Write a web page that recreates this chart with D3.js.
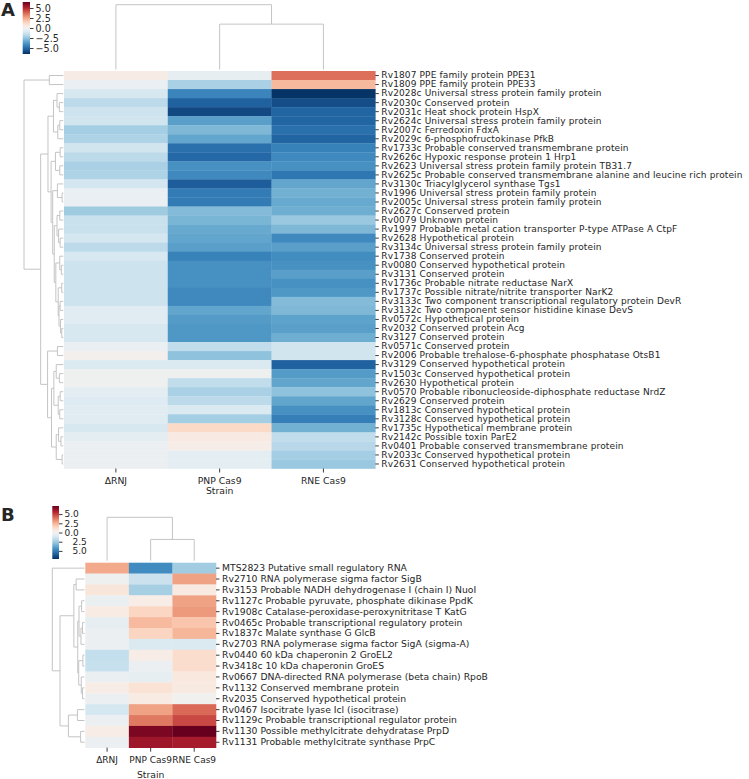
<!DOCTYPE html>
<html><head><meta charset="utf-8">
<script src="https://cdn.jsdelivr.net/npm/d3@7"></script>
<style>
body{margin:0;background:#fff;}
text{font-family:"DejaVu Sans",sans-serif;fill:#262626;}
</style></head>
<body>
<svg id="chart" width="749" height="779"></svg>
<script>
// ---------- DATA ----------
const strains = ["ΔRNJ", "PNP Cas9", "RNE Cas9"];

const genesA = [
"Rv1807 PPE family protein PPE31","Rv1809 PPE family protein PPE33","Rv2028c Universal stress protein family protein",
"Rv2030c Conserved protein","Rv2031c Heat shock protein HspX","Rv2624c Universal stress protein family protein",
"Rv2007c Ferredoxin FdxA","Rv2029c 6-phosphofructokinase PfkB","Rv1733c Probable conserved transmembrane protein",
"Rv2626c Hypoxic response protein 1 Hrp1","Rv2623 Universal stress protein family protein TB31.7",
"Rv2625c Probable conserved transmembrane alanine and leucine rich protein","Rv3130c Triacylglycerol synthase Tgs1",
"Rv1996 Universal stress protein family protein","Rv2005c Universal stress protein family protein","Rv2627c Conserved protein",
"Rv0079 Unknown protein","Rv1997 Probable metal cation transporter P-type ATPase A CtpF","Rv2628 Hypothetical protein",
"Rv3134c Universal stress protein family protein","Rv1738 Conserved protein","Rv0080 Conserved hypothetical protein",
"Rv3131 Conserved protein","Rv1736c Probable nitrate reductase NarX","Rv1737c Possible nitrate/nitrite transporter NarK2",
"Rv3133c Two component transcriptional regulatory protein DevR","Rv3132c Two component sensor histidine kinase DevS",
"Rv0572c Hypothetical protein","Rv2032 Conserved protein Acg","Rv3127 Conserved protein","Rv0571c Conserved protein",
"Rv2006 Probable trehalose-6-phosphate phosphatase OtsB1","Rv3129 Conserved hypothetical protein",
"Rv1503c Conserved hypothetical protein","Rv2630 Hypothetical protein","Rv0570 Probable ribonucleoside-diphosphate reductase NrdZ",
"Rv2629 Conserved protein","Rv1813c Conserved hypothetical protein","Rv3128c Conserved hypothetical protein",
"Rv1735c Hypothetical membrane protein","Rv2142c Possible toxin ParE2","Rv0401 Probable conserved transmembrane protein",
"Rv2033c Conserved hypothetical protein","Rv2631 Conserved hypothetical protein"];

const rnjA = [0.4,-0.4,-1.0,-1.7,-1.3,-1.2,-2.2,-2.0,-1.2,-1.7,-2.1,-2.0,-1.1,-0.4,-0.4,-2.3,-1.4,-1.4,-1.1,-1.7,
  -1.0,-1.3,-1.3,-1.3,-1.3,-1.3,-0.7,-0.7,-1.0,-1.0,-0.4,0.1,-0.9,-0.2,-0.2,-0.6,-0.8,-0.7,-0.7,-1.0,-0.6,-0.3,-0.3,-0.3];
const pnpA = [-0.5,-2.1,-4.3,-5.3,-5.9,-3.6,-2.9,-3.4,-4.9,-5.1,-4.0,-4.2,-5.4,-4.6,-4.6,-2.8,-3.0,-3.3,-3.4,-3.6,
  -4.4,-4.0,-4.0,-4.0,-4.2,-4.2,-3.4,-3.7,-3.8,-3.8,-1.6,-2.6,-0.9,-0.2,-1.6,-2.1,-1.7,-0.9,-2.2,1.2,0.5,0.3,-0.6,-0.6];
const rneA = [3.6,2.1,-6.4,-5.8,-5.2,-5.2,-4.9,-5.2,-4.4,-4.2,-4.0,-4.7,-3.4,-3.1,-3.3,-3.2,-2.4,-2.9,-4.2,-3.6,
  -4.1,-4.0,-3.6,-4.0,-3.8,-2.8,-2.9,-3.5,-3.6,-3.2,-1.2,-1.2,-5.3,-3.7,-3.4,-2.6,-3.4,-4.0,-4.5,-3.1,-1.6,-1.8,-2.2,-2.4];

const genesB = [
"MTS2823 Putative small regulatory RNA","Rv2710 RNA polymerase sigma factor SigB",
"Rv3153 Probable NADH dehydrogenase I (chain I) NuoI","Rv1127c Probable pyruvate, phosphate dikinase PpdK",
"Rv1908c Catalase-peroxidase-peroxynitritase T KatG","Rv0465c Probable transcriptional regulatory protein",
"Rv1837c Malate synthase G GlcB","Rv2703 RNA polymerase sigma factor SigA (sigma-A)","Rv0440 60 kDa chaperonin 2 GroEL2",
"Rv3418c 10 kDa chaperonin GroES","Rv0667 DNA-directed RNA polymerase (beta chain) RpoB","Rv1132 Conserved membrane protein",
"Rv2035 Conserved hypothetical protein","Rv0467 Isocitrate lyase Icl (isocitrase)","Rv1129c Probable transcriptional regulator protein",
"Rv1130 Possible methylcitrate dehydratase PrpD","Rv1131 Probable methylcitrate synthase PrpC"];

const rnjB = [2.7,-0.2,0.8,-0.4,0.5,-0.6,-0.3,-0.3,-1.7,-1.6,-0.4,0.4,-0.3,-1.2,-0.3,0.4,-0.3];
const pnpB = [-4.6,-1.5,-2.4,0.4,1.45,2.3,1.5,-1.0,0.4,-0.3,-0.6,1.0,0.5,2.9,3.8,6.8,6.1];
const rneB = [-2.5,2.9,0.6,2.9,3.1,2.0,2.4,-1.0,1.2,1.2,0.7,0.6,-0.1,4.1,4.8,7.2,5.9];

const cbTicks = [5, 2.5, 0, -2.5, -5];
const limA = 6.5, limB = 7.2;

// dendrograms: [height, left, right]; leaves = row/column index
const colTreeA = [1, 0, [0.70, 1, 2]];
const colTreeB = [1, 0, [0.49, 1, 2]];
const rowTreeA = [10,
  [3.56, 0, 1],
  [5.76,
    [3.9,
      [2.5, [1.6, 2, [1.0, 3, 4]], [1.4, [0.9, 5, 6], 7]],
      [3.1,
        [2.0, [0.8, 8, 9], [0.9, 10, 11]],
        [2.7,
          [1.5, 12, [0.3, 13, 14]],
          [2.3,
            [1.6, [0.9, 15, 16], [1.2, 17, [0.8, 18, 19]]],
            [1.9, [0.9, 20, [0.5, 21, 22]], [1.3, [0.4, 23, 24], [1.1, [0.8, 25, 26], [0.7, 27, [0.4, 28, 29]]]]]]]]],
    [4.0,
      [1.5, 30, 31],
      [3.0,
        [2.4, [1.8, 32, [1.0, 33, 34]], [1.3, [0.8, 35, 36], [0.9, 37, 38]]],
        [1.8, [1.2, 39, [0.6, 40, 41]], [0.3, 42, 43]]]]]];
const rowTreeB = [10, 0,
  [7.6,
    [3.3, [2.6, 1, 2],
      [2.1,
        [1.7, [0.9, 3, 4], [1.1, [0.6, 5, 6], 7]],
        [1.8, [0.5, 8, 9], [1.0, 10, [0.6, 11, 12]]]]],
    [5.0, [2.2, 13, 14], [1.2, 15, 16]]]];

// ---------- DRAW ----------
const svg = d3.select("#chart");
const TREE = "#c4c4c4";

function drawTree(g, tree, leafPos, hScale, rowMode) {
  const pt = (p, h) => rowMode ? [hScale(h), p] : [p, hScale(h)];
  function walk(n) {
    if (typeof n === "number") return {p: leafPos(n), h: 0};
    const [h, a, b] = n;
    const A = walk(a), B = walk(b);
    g.append("path")
      .attr("d", d3.line()([pt(A.p, A.h), pt(A.p, h), pt(B.p, h), pt(B.p, B.h)]))
      .attr("fill", "none").attr("stroke", TREE).attr("stroke-width", 1);
    return {p: (A.p + B.p) / 2, h};
  }
  walk(tree);
}

function panel(cfg) {
  const g = svg.append("g");
  const cols = [cfg.rnj, cfg.pnp, cfg.rne];
  const x = d3.scaleBand().domain(d3.range(3)).range([cfg.x0, cfg.x1]);
  const y = d3.scaleBand().domain(d3.range(cfg.genes.length)).range([cfg.y0, cfg.y1]);
  const color = v => d3.interpolateRdBu(0.5 - v / (2 * cfg.lim));

  const cells = [];
  cfg.genes.forEach((gname, i) => cols.forEach((arr, j) => cells.push({i, j, v: arr[i]})));
  g.selectAll("rect.cell").data(cells).join("rect")
    .attr("x", d => x(d.j)).attr("y", d => y(d.i))
    .attr("width", x.bandwidth() + 0.3).attr("height", y.bandwidth() + 0.3)
    .attr("fill", d => color(d.v));

  // right axis (gene labels)
  const ya = d3.scaleBand().domain(cfg.genes).range([cfg.y0, cfg.y1]);
  const ax = g.append("g").attr("transform", `translate(${cfg.x1},0)`)
    .call(d3.axisRight(ya).tickSize(3.5).tickPadding(2.5));
  ax.select(".domain").remove();
  ax.selectAll("line").attr("stroke", "#262626").attr("stroke-width", 0.9);
  ax.selectAll("text").style("font-size", cfg.labelFont + "px")
    .style("letter-spacing", cfg.labelSpacing + "px").attr("fill", "#262626");

  // bottom axis (strains)
  const xa = d3.scaleBand().domain(strains).range([cfg.x0, cfg.x1]);
  const bx = g.append("g").attr("transform", `translate(0,${cfg.y1})`)
    .call(d3.axisBottom(xa).tickSize(4).tickPadding(cfg.bottomPad));
  bx.select(".domain").remove();
  bx.selectAll("line").attr("stroke", "#262626").attr("stroke-width", 0.9);
  bx.selectAll("text").style("font-size", cfg.bottomFont + "px").attr("fill", "#262626");
  g.append("text").attr("x", (cfg.x0 + cfg.x1) / 2).attr("y", cfg.strainY)
    .attr("text-anchor", "middle").style("font-size", "9.25px").text("Strain");

  // column dendrogram
  const hc = d3.scaleLinear().domain([0, 1]).range([cfg.colTreeBottom, cfg.colTreeTop]);
  drawTree(g.append("g"), cfg.colTree, j => x(j) + x.bandwidth() / 2, hc, false);

  // row dendrogram
  const hr = d3.scaleLinear().domain([0, 10]).range([cfg.rowTreeLeaf, cfg.rowTreeRoot]);
  drawTree(g.append("g"), cfg.rowTree, i => y(i) + y.bandwidth() / 2, hr, true);

  // colorbar
  const gid = "grad" + cfg.id;
  const grad = svg.append("defs").append("linearGradient").attr("id", gid)
    .attr("x1", 0).attr("y1", 0).attr("x2", 0).attr("y2", 1);
  d3.range(0, 1.0001, 0.02).forEach(t => grad.append("stop").attr("offset", t).attr("stop-color", d3.interpolateRdBu(t)));
  g.append("rect").attr("x", cfg.cb.x).attr("y", cfg.cb.y0).attr("width", cfg.cb.w)
    .attr("height", cfg.cb.y1 - cfg.cb.y0).attr("fill", `url(#${gid})`);
  const cs = d3.scaleLinear().domain([cfg.lim, -cfg.lim]).range([cfg.cb.y0, cfg.cb.y1]);
  const cax = g.append("g").attr("transform", `translate(${cfg.cb.x + cfg.cb.w},0)`)
    .call(d3.axisRight(cs).tickValues(cbTicks).tickSize(3.5).tickPadding(2)
      .tickFormat(d => cfg.hideMinus ? d3.format(".1f")(Math.abs(d)) : d3.format(".1f")(d).replace("-", "−")));
  cax.select(".domain").remove();
  cax.selectAll("line").attr("stroke", "#262626").attr("stroke-width", 0.9);
  cax.selectAll("text").style("font-size", cfg.cbFont + "px").attr("fill", "#262626")
    .attr("dx", d => (cfg.hideMinus && d < 0) ? 8 : 0);

  svg.append("text").attr("x", cfg.letter[0]).attr("y", cfg.letter[1])
    .style("font-family", "'DejaVu Sans',sans-serif").style("font-weight", "bold").style("font-size", "18px")
    .attr("fill", "#000").text(cfg.id);
}

panel({
  id: "A", genes: genesA, rnj: rnjA, pnp: pnpA, rne: rneA, lim: limA,
  x0: 64, x1: 375.3, y0: 71, y1: 468.5, labelFont: 9, labelSpacing: 0.13,
  bottomFont: 9.25, bottomPad: 4.6,
  strainY: 494, colTree: colTreeA, colTreeBottom: 69.5, colTreeTop: 4.7,
  rowTree: rowTreeA, rowTreeLeaf: 63.3, rowTreeRoot: 24,
  cb: {x: 22.7, w: 7.3, y0: 2, y1: 54}, cbFont: 9.6, hideMinus: false, letter: [1, 16]
});
panel({
  id: "B", genes: genesB, rnj: rnjB, pnp: pnpB, rne: rneB, lim: limB,
  x0: 85.3, x1: 216, y0: 562.7, y1: 747.7, labelFont: 9.25, labelSpacing: 0,
  bottomFont: 9, bottomPad: 5.4,
  strainY: 778, colTree: colTreeB, colTreeBottom: 560.7, colTreeTop: 517.3,
  rowTree: rowTreeB, rowTreeLeaf: 84.5, rowTreeRoot: 52.3,
  cb: {x: 52.3, w: 6.7, y0: 506, y1: 559}, cbFont: 9, hideMinus: true, letter: [1, 521]
});
</script>
</body></html>
